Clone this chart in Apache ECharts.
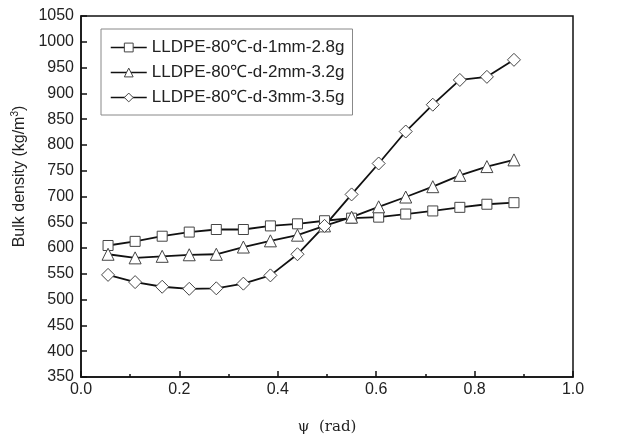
<!DOCTYPE html>
<html>
<head>
<meta charset="utf-8">
<script src="https://cdn.jsdelivr.net/npm/echarts@6/dist/echarts.min.js"></script>
<style>
  html, body { margin: 0; padding: 0; background: #fff; }
  #chart { width: 627px; height: 440px; }
</style>
</head>
<body>
<div id="chart"></div>
<script>
// psi values (rad)
const psi = [0.055, 0.11, 0.165, 0.22, 0.275, 0.33, 0.385, 0.44, 0.495, 0.55, 0.605, 0.66, 0.715, 0.77, 0.825, 0.88];

const names = ["LLDPE-80℃-d-1mm-2.8g", "LLDPE-80℃-d-2mm-3.2g", "LLDPE-80℃-d-3mm-3.5g"];
// bulk density (kg/m3)
const d1mm = [605, 613, 623, 631, 636, 636, 643, 647, 653, 658, 660, 666, 672, 679, 685, 688];
const d2mm = [588, 581, 584, 587, 588, 602, 614, 625, 643, 660, 680, 699, 719, 741, 758, 771];
const d3mm = [548, 534, 525, 521, 522, 531, 547, 588, 643, 704, 764, 826, 878, 926, 932, 965];

const font = "'Liberation Sans', Arial, sans-serif";

function pairs(ys) {
  return psi.map((x, i) => [x, ys[i]]);
}

function makeSeries(name, ys, symbol, size) {
  return {
    name: name,
    type: "line",
    data: pairs(ys),
    symbol: symbol,
    symbolSize: size,
    showSymbol: true,
    lineStyle: { color: "#111", width: 1.8 },
    itemStyle: { color: "#fff", borderColor: "#444", borderWidth: 1 },
    z: 3,
  };
}

let chart = echarts.init(document.getElementById("chart"));

chart.setOption({
  animation: false,
  backgroundColor: "#fff",
  grid: {
    left: 81, right: 54, top: 16, bottom: 61,
    show: true, borderColor: "#111", borderWidth: 1.5,
  },
  legend: {
    orient: "vertical",
    left: 101, top: 29,
    borderColor: "#888", borderWidth: 1,
    padding: [10, 8, 9, 9],
    itemWidth: 36, itemHeight: 11, itemGap: 8,
    lineStyle: { width: 1.5 },
    itemStyle: { borderWidth: 1 },
    textStyle: { fontFamily: font, fontSize: 17, color: "#222" },
    data: names,
  },
  xAxis: {
    type: "value",
    min: 0, max: 1, interval: 0.2,
    name: "ψ  (rad)",
    nameLocation: "middle",
    nameGap: 43,
    nameTextStyle: { fontFamily: "'DejaVu Serif', 'Liberation Serif', serif", fontSize: 15, color: "#222" },
    axisLine: { lineStyle: { color: "#111", width: 1.5 } },
    axisTick: { inside: true, length: 6, lineStyle: { color: "#111", width: 1.5 } },
    minorTick: { show: true, splitNumber: 2, length: 3, lineStyle: { color: "#111", width: 1.5 } },
    splitLine: { show: false },
    axisLabel: {
      margin: 5, fontFamily: font, fontSize: 16, color: "#222",
      formatter: (v) => v.toFixed(1),
    },
  },
  yAxis: {
    type: "value",
    min: 350, max: 1050, interval: 50,
    name: "Bulk density (kg/m{sup|3})",
    nameLocation: "middle",
    nameGap: 51,
    nameRotate: 90,
    nameTextStyle: {
      fontFamily: font, fontSize: 16, color: "#222",
      padding: [0, 0, 0, 40],
      rich: { sup: { fontFamily: font, fontSize: 10, color: "#222", verticalAlign: "top", padding: [0, 0, 8, 0] } },
    },
    axisLine: { lineStyle: { color: "#111", width: 1.5 } },
    axisTick: { inside: true, length: 6, lineStyle: { color: "#111", width: 1.5 } },
    splitLine: { show: false },
    axisLabel: {
      margin: 7, fontFamily: font, fontSize: 16, color: "#222",
      formatter: (v) => String(v),
    },
  },
  series: [
    makeSeries(names[0], d1mm, "rect", 10),
    makeSeries(names[1], d2mm, "triangle", 12),
    makeSeries(names[2], d3mm, "diamond", 13),
  ],
});
</script>
</body>
</html>
